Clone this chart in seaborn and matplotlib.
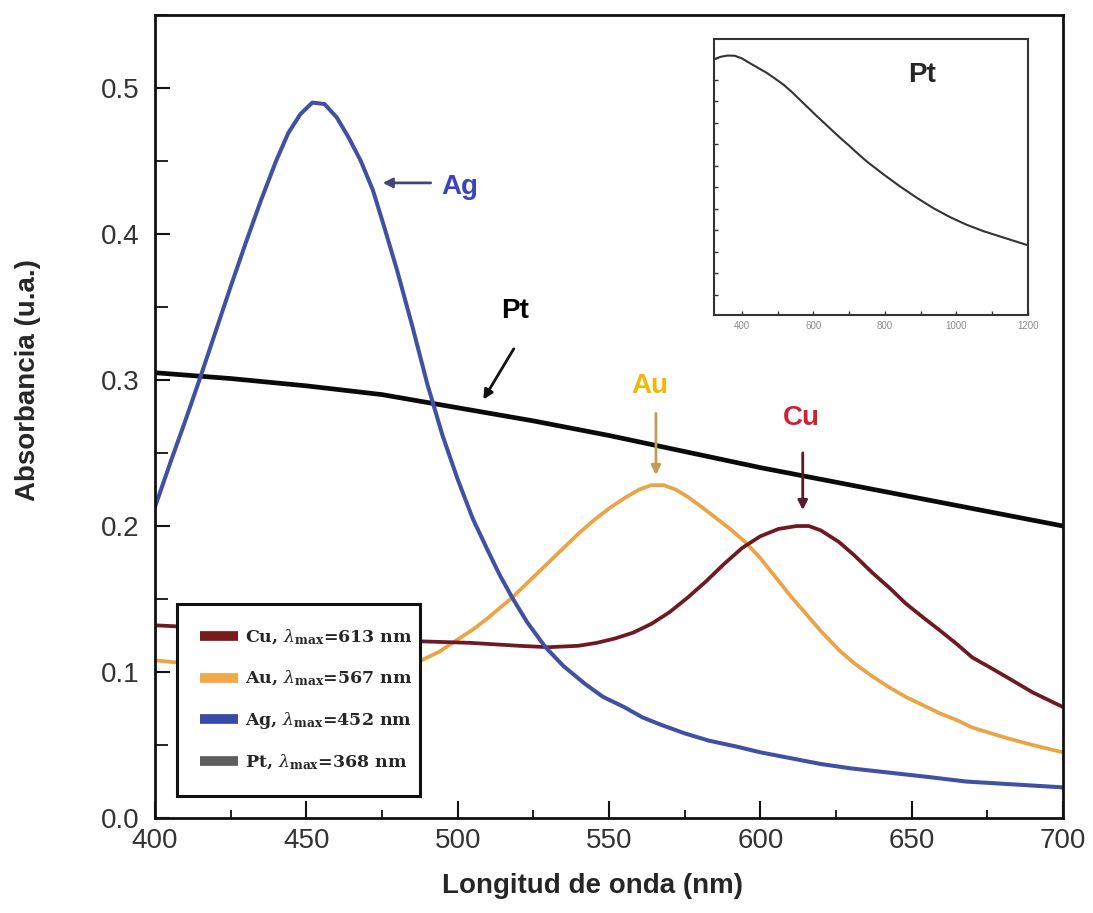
import numpy as np
import matplotlib
matplotlib.use("Agg")
import matplotlib.pyplot as plt
from matplotlib.lines import Line2D
from matplotlib.ticker import MultipleLocator, FormatStrFormatter
import seaborn as sns

# --- data (wavelength in nm, absorbance in a.u.) ---
wl_ag = [400, 405, 410, 415, 420, 425, 430, 435, 440, 444, 448, 452, 456, 460, 464,
         468, 472, 476, 480, 485, 490, 495, 500, 505, 510, 514, 518, 523, 529, 535,
         542, 548, 555, 561, 567, 575, 583, 592, 600, 610, 620, 630, 643, 656, 668,
         684, 700]
abs_ag = [0.213, 0.243, 0.272, 0.302, 0.333, 0.364, 0.394, 0.423, 0.450, 0.469, 0.482,
          0.490, 0.489, 0.480, 0.466, 0.450, 0.430, 0.403, 0.375, 0.337, 0.297, 0.262,
          0.232, 0.205, 0.183, 0.166, 0.151, 0.134, 0.117, 0.104, 0.092, 0.083, 0.076,
          0.069, 0.064, 0.058, 0.053, 0.049, 0.045, 0.041, 0.037, 0.034, 0.031, 0.028,
          0.025, 0.023, 0.021]

wl_pt = [400, 425, 450, 475, 500, 525, 550, 575, 600, 625, 650, 675, 700]
abs_pt = [0.305, 0.301, 0.296, 0.290, 0.281, 0.272, 0.262, 0.251, 0.240, 0.230, 0.220,
          0.210, 0.200]

wl_au = [400, 420, 440, 460, 475, 482, 488, 494, 499, 505, 510, 518, 524, 530, 535, 540,
         545, 550, 555, 560, 564, 568, 572, 576, 580, 585, 590, 595, 600, 605, 610, 615,
         620, 626, 631, 637, 643, 648, 654, 659, 665, 670, 681, 690, 700]
abs_au = [0.108, 0.104, 0.101, 0.100, 0.102, 0.104, 0.108, 0.114, 0.121, 0.129, 0.137,
          0.151, 0.163, 0.175, 0.185, 0.195, 0.204, 0.212, 0.219, 0.225, 0.228, 0.228,
          0.225, 0.220, 0.214, 0.206, 0.198, 0.189, 0.178, 0.165, 0.152, 0.140, 0.128,
          0.115, 0.106, 0.097, 0.089, 0.083, 0.077, 0.072, 0.067, 0.062, 0.055, 0.050,
          0.045]

wl_cu = [400, 420, 440, 460, 488, 504, 520, 530, 540, 546, 552, 558, 564, 570, 576, 582,
         588, 594, 600, 606, 612, 616, 620, 626, 631, 637, 643, 648, 654, 659, 665, 670,
         676, 681, 690, 700]
abs_cu = [0.132, 0.130, 0.127, 0.124, 0.121, 0.120, 0.118, 0.117, 0.118, 0.120, 0.123,
          0.127, 0.133, 0.141, 0.151, 0.162, 0.174, 0.185, 0.193, 0.198, 0.200, 0.200,
          0.197, 0.189, 0.180, 0.168, 0.157, 0.147, 0.137, 0.129, 0.119, 0.110, 0.103,
          0.097, 0.086, 0.076]

# inset: Pt over a wider range (arbitrary units, no scale shown)
wl_inset = [322, 340, 360, 380, 400, 422, 445, 469, 492, 516, 539, 562, 585, 608, 632,
            655, 678, 702, 725, 749, 795, 842, 889, 935, 982, 1029, 1075, 1122, 1160, 1196]
abs_inset = [10.95, 11.07, 11.13, 11.12, 11.00, 10.78, 10.56, 10.33, 10.07, 9.78, 9.45,
             9.08, 8.71, 8.34, 7.97, 7.61, 7.26, 6.91, 6.56, 6.21, 5.62, 5.05, 4.52, 4.04,
             3.62, 3.26, 2.97, 2.72, 2.52, 2.33]

legend_labels = [r"Cu, $\lambda_{\mathregular{max}}$=613 nm",
                 r"Au, $\lambda_{\mathregular{max}}$=567 nm",
                 r"Ag, $\lambda_{\mathregular{max}}$=452 nm",
                 r"Pt, $\lambda_{\mathregular{max}}$=368 nm"]

C_CU = "#6e1a22"
C_AU = "#eba445"
C_AG = "#4050a2"
C_PT = "#0a0a0a"

sns.set_theme(style="ticks")
plt.rcParams["font.family"] = ["Liberation Sans", "DejaVu Sans"]
plt.rcParams["mathtext.fontset"] = "dejavuserif"

fig = plt.figure(figsize=(10.93, 9.13), dpi=100)
ax = fig.add_axes([0.1418, 0.104, 0.8308, 0.8796])

sns.lineplot(x=wl_pt, y=abs_pt, ax=ax, color=C_PT, lw=3.4)
sns.lineplot(x=wl_au, y=abs_au, ax=ax, color=C_AU, lw=2.7)
sns.lineplot(x=wl_cu, y=abs_cu, ax=ax, color=C_CU, lw=2.7)
sns.lineplot(x=wl_ag, y=abs_ag, ax=ax, color=C_AG, lw=2.9)

ax.set_xlim(400, 700)
ax.set_ylim(0, 0.55)
ax.xaxis.set_major_locator(MultipleLocator(50))
ax.xaxis.set_minor_locator(MultipleLocator(25))
ax.yaxis.set_major_locator(MultipleLocator(0.1))
ax.yaxis.set_minor_locator(MultipleLocator(0.05))
ax.yaxis.set_major_formatter(FormatStrFormatter("%.1f"))
ax.tick_params(axis="both", which="both", direction="in", top=False, right=False,
               colors="#111111", labelcolor="#333333")
ax.tick_params(axis="x", which="major", length=12, width=1.5, labelsize=20, pad=7)
ax.tick_params(axis="x", which="minor", length=6, width=1.3)
ax.tick_params(axis="y", which="major", length=11, width=1.5, labelsize=20, pad=11)
ax.tick_params(axis="y", which="minor", length=9, width=1.3)
for s in ax.spines.values():
    s.set_linewidth(2)
    s.set_color("#111111")

ax.set_xlabel("Longitud de onda (nm)", fontsize=20, fontweight="bold")
ax.set_ylabel("Absorbancia (u.a.)", fontsize=20, fontweight="bold")
ax.xaxis.set_label_coords(0.482, -0.084)
ax.xaxis.label.set_va("center")
ax.yaxis.set_label_coords(-0.14, 0.545)
ax.yaxis.label.set_va("center")

# annotations with arrows
ax.annotate("", xy=(474.3, 0.435), xytext=(492, 0.435),
            arrowprops=dict(arrowstyle="-|>", color="#44447a", lw=2, mutation_scale=14))
ax.text(500.8, 0.432, "Ag", color="#3a44c0", fontsize=20, fontweight="bold",
        ha="center", va="center")

ax.annotate("", xy=(508, 0.285), xytext=(519, 0.323),
            arrowprops=dict(arrowstyle="-|>", color="#111111", lw=2, mutation_scale=14))
ax.text(519, 0.347, "Pt", color="black", fontsize=20, fontweight="bold",
        ha="center", va="center")

ax.annotate("", xy=(565.5, 0.233), xytext=(565.5, 0.279),
            arrowprops=dict(arrowstyle="-|>", color="#c49a55", lw=2, mutation_scale=14))
ax.text(563.5, 0.296, "Au", color="#f2b700", fontsize=20, fontweight="bold",
        ha="center", va="center")

ax.annotate("", xy=(614, 0.209), xytext=(614, 0.252),
            arrowprops=dict(arrowstyle="-|>", color="#5a1a28", lw=2, mutation_scale=14))
ax.text(613.7, 0.274, "Cu", color="#d02035", fontsize=20, fontweight="bold",
        ha="center", va="center")

# legend
handles = [Line2D([0], [0], color=c, lw=7, solid_capstyle="butt")
           for c in ["#7a1a1c", "#f0a848", "#3a4aa8", "#5e5e5e"]]
leg = ax.legend(handles, legend_labels, loc="lower left",
                bbox_to_anchor=(0.024, 0.028, 0.268, 0.237), mode="expand",
                prop={"family": "DejaVu Serif", "weight": "bold", "size": 12.5},
                handlelength=2.2, handletextpad=0.4, labelspacing=1.25,
                borderaxespad=0, borderpad=1.35, fancybox=False, framealpha=1)
leg.get_frame().set_edgecolor("#111111")
leg.get_frame().set_linewidth(2.2)

# inset
axin = fig.add_axes([0.6532, 0.655, 0.2873, 0.3023])
sns.lineplot(x=wl_inset, y=abs_inset, ax=axin, color="#333333", lw=1.5)
axin.set_xlim(322, 1200)
axin.set_ylim(-0.93, 11.9)
axin.xaxis.set_major_locator(MultipleLocator(200))
axin.xaxis.set_minor_locator(MultipleLocator(100))
axin.yaxis.set_major_locator(MultipleLocator(1))
axin.set_yticklabels([])
axin.set_xlabel("")
axin.set_ylabel("")
axin.tick_params(axis="both", which="both", direction="in", length=3, width=1,
                 colors="#333333", labelcolor="#8a8a8a", labelsize=7, pad=4)
for s in axin.spines.values():
    s.set_linewidth(1.5)
    s.set_color("#333333")
axin.text(0.662, 0.87, "Pt", transform=axin.transAxes, fontsize=20,
          fontweight="bold", ha="center", va="center")

fig.savefig("out.png", dpi=100)
